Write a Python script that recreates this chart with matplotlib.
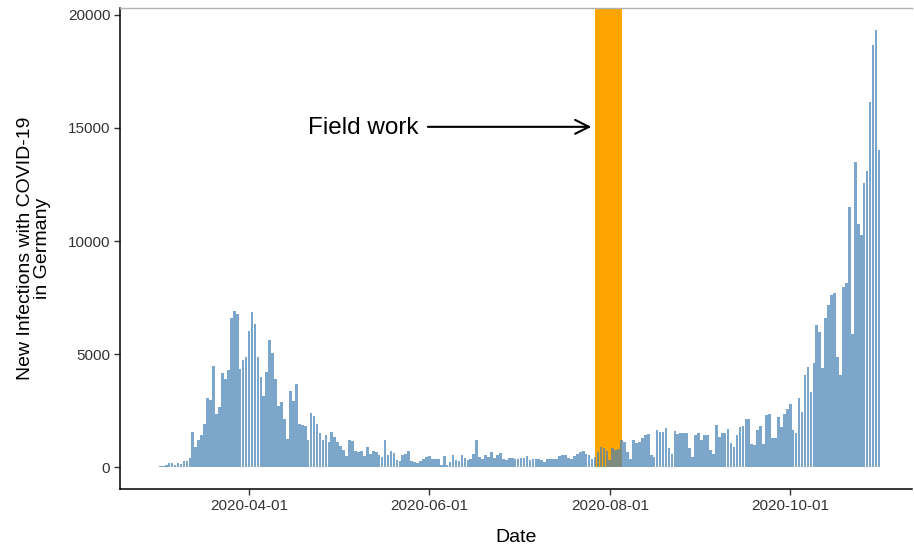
import matplotlib
matplotlib.use("Agg")
import matplotlib.pyplot as plt
import matplotlib.dates as mdates
import numpy as np
import pandas as pd

# daily new infections, starting 2020-03-02
start_date = "2020-03-02"
cases_mar_apr = [30, 50, 80, 190, 170, 110, 190, 150, 260, 280, 410,
                 1560, 900, 1190, 1420, 1930, 3040, 2960, 4470, 2350, 2640,
                 4150, 3880, 4290, 6580, 6920, 6770, 4350, 4730, 4880, 6030,
                 6870, 6330, 4880, 4000, 3140, 4220, 5620, 5030, 3920, 2700,
                 2890, 2150, 1250, 3360, 2940, 3660, 1930, 1860, 1830, 1190,
                 2400, 2260, 1930, 1490, 1220, 1420, 1120, 1560, 1340, 1120,
                 930, 780, 490]
cases_summer = [1220, 1150, 700, 680, 720, 500, 900,
                600, 710, 650, 550, 450, 1195, 550,
                700, 640, 310, 280, 530, 580, 710,
                250, 240, 200, 260, 380, 460, 480,
                340, 340, 360, 90, 490, 90, 230,
                530, 300, 250, 530, 400, 300, 350,
                580, 1195, 450, 380, 530, 450, 680,
                420, 530, 630, 380, 300, 420, 420,
                380, 340, 420, 420, 490, 320, 380,
                340, 340, 300, 230, 340, 370, 370,
                380, 480, 530, 530, 420, 340, 490,
                600, 680, 720, 600, 530, 380]
cases_fieldwork = [460, 680, 900, 830, 700, 310, 830, 750, 800]
cases_aug_sep = [1220, 1120, 680, 380, 1195, 1050, 1100, 1270, 1420, 1460,
                 530, 450, 1640, 1560, 1560, 1710, 830, 600, 1610, 1460,
                 1490, 1490, 1520, 830, 460, 1400, 1490, 1220, 1420, 1420,
                 750, 600, 1860, 1340, 1490, 1490, 1670, 1050, 900, 1420,
                 1780, 1810, 2150, 2110, 1020, 1000, 1640, 1810, 1020, 2300,
                 2350, 1270, 1270, 2230]
cases_oct = [1780, 2370, 2550, 2790, 1640, 1500, 3040, 2450,
             4070, 4440, 3330, 4590, 6280, 5990, 4400, 6580, 7170, 7610,
             7680, 4880, 4070, 7970, 8130, 11520, 5910, 13510, 10770,
             10270, 12550, 13110, 16170, 18670, 19340, 14030]

cases = cases_mar_apr + cases_summer + cases_fieldwork + cases_aug_sep + cases_oct
dates = pd.date_range(start_date, periods=len(cases), freq="D")

fieldwork_start = pd.Timestamp("2020-07-27")
fieldwork_end = pd.Timestamp("2020-08-05")
arrow_tail = (pd.Timestamp("2020-05-31 12:00"), 15050)
arrow_head = (pd.Timestamp("2020-07-25 18:00"), 15050)
label_pos = (pd.Timestamp("2020-05-09 12:00"), 15000)
xticks = ["2020-04-01", "2020-06-01", "2020-08-01", "2020-10-01"]

plt.rcParams["font.family"] = ["Liberation Sans", "DejaVu Sans"]

fig = plt.figure(figsize=(9.14, 5.5), dpi=100)
ax = fig.add_axes([0.1313, 0.1109, 0.8665, 0.8746])

# ggplot-like expansion around the data
ymax = max(cases)
ylo, yhi = -0.05 * ymax, ymax * 1.05
x0 = mdates.date2num(dates[0]) - 0.45
x1 = mdates.date2num(dates[-1]) + 0.45
span = x1 - x0
ax.set_xlim(x0 - 0.054 * span, x1 + 0.044 * span)
ax.set_ylim(ylo, yhi)

ax.fill_between([fieldwork_start, fieldwork_end], 0, yhi, color="#FFA500",
                linewidth=0, zorder=1)
ax.bar(dates, cases, width=0.9, color="steelblue", alpha=0.7, linewidth=0,
       zorder=2)

ax.annotate("", xy=arrow_head, xytext=arrow_tail,
            arrowprops=dict(arrowstyle="->,head_length=1.0,head_width=0.5",
                            color="black", lw=1.5, shrinkA=0, shrinkB=0))
ax.text(label_pos[0], label_pos[1], "Field work", fontsize=17.5,
        ha="center", va="center")

ax.set_xticks(pd.to_datetime(xticks))
ax.xaxis.set_major_formatter(mdates.DateFormatter("%Y-%m-%d"))
ax.set_yticks([0, 5000, 10000, 15000, 20000])
ax.tick_params(axis="both", direction="out", length=4, width=1,
               color="#333333", labelcolor="#333333", labelsize=11, pad=3)

for s in ["left", "bottom"]:
    ax.spines[s].set_color("black")
    ax.spines[s].set_linewidth(1.1)
ax.spines["top"].set_color("#b0b0b0")
ax.spines["top"].set_linewidth(1.0)
ax.spines["right"].set_visible(False)

ax.set_xlabel("Date", fontsize=14, labelpad=12)
ax.set_ylabel("New Infections with COVID-19\nin Germany", fontsize=14,
              labelpad=12, linespacing=1.0)

fig.savefig("out.png", dpi=100)
